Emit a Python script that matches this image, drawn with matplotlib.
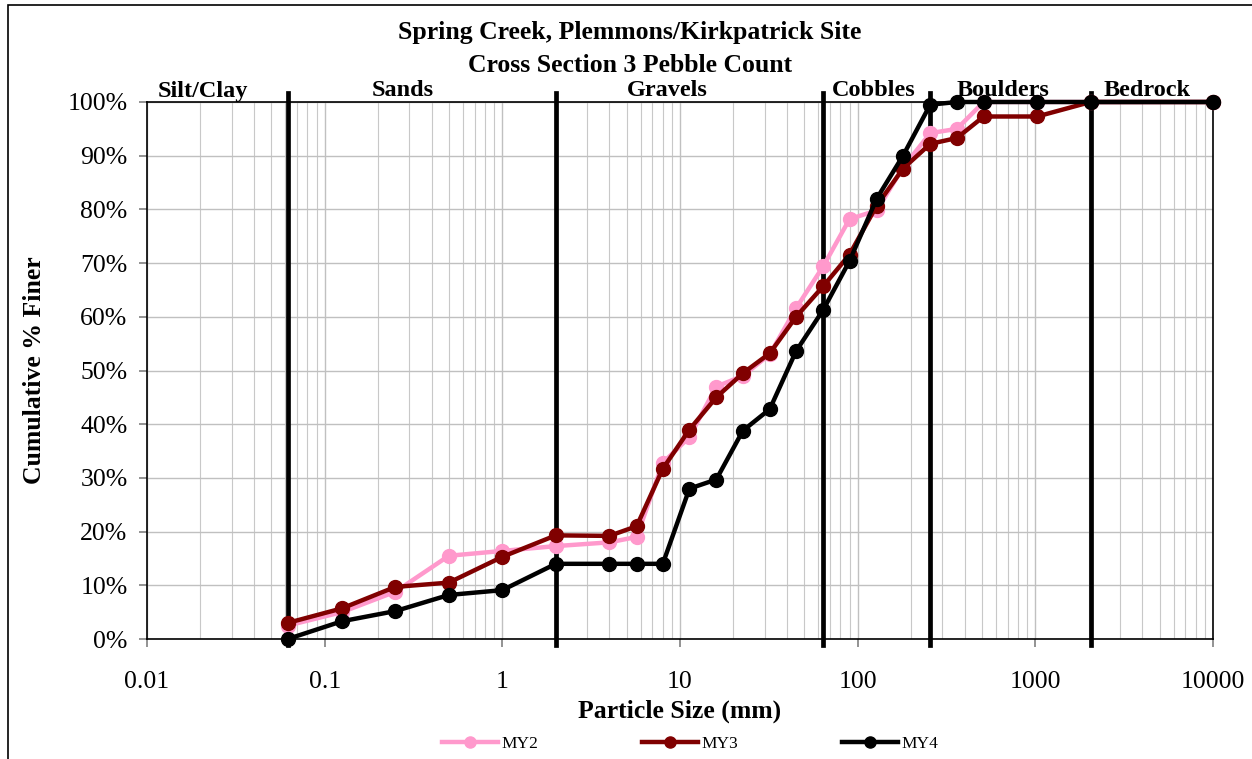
import matplotlib
matplotlib.use("Agg")
import matplotlib.pyplot as plt
from matplotlib.ticker import FixedLocator, LogLocator, NullFormatter, PercentFormatter
from matplotlib.patches import Rectangle

plt.rcParams['font.family'] = ['Liberation Serif', 'DejaVu Serif']

sizes = [0.062, 0.125, 0.25, 0.5, 1, 2, 4, 5.7, 8, 11.3, 16, 22.6, 32, 45, 64, 90,
         128, 180, 256, 362, 512, 1024, 2048, 10000]
my2 = [2.5, 5.0, 8.8, 15.5, 16.4, 17.3, 18.0, 19.0, 32.8, 37.6, 47.0, 49.0, 53.0, 61.6,
       69.4, 78.2, 79.8, 87.8, 94.2, 95.0, 100, 100, 100, 100]
my3 = [3.0, 5.7, 9.7, 10.5, 15.3, 19.3, 19.2, 21.0, 31.7, 39.0, 45.0, 49.5, 53.2, 60.0,
       65.7, 71.6, 80.7, 87.6, 92.2, 93.3, 97.3, 97.3, 100, 100]
my4 = [0.0, 3.3, 5.2, 8.2, 9.1, 14.0, 14.0, 14.0, 14.0, 28.0, 29.7, 38.8, 42.8, 53.6,
       61.3, 70.4, 82.0, 90.0, 99.5, 100, 100, 100, 100, 100]
series_names = ['MY2', 'MY3', 'MY4']
series_colors = ['#FF99CC', '#800000', '#000000']

boundaries = [0.062, 2, 64, 256, 2048]
classes = ['Silt/Clay', 'Sands', 'Gravels', 'Cobbles', 'Boulders', 'Bedrock']
class_x = [203, 403, 667, 874, 1003, 1147]
xticks = [0.01, 0.1, 1, 10, 100, 1000, 10000]
xtick_labels = ['0.01', '0.1', '1', '10', '100', '1000', '10000']

W, H = 1252, 759
fig = plt.figure(figsize=(W / 100, H / 100), dpi=100)
ax = fig.add_axes([147 / W, 1 - 639 / H, (1213 - 147) / W, (639 - 102) / H])

ax.set_xscale('log')
ax.set_xlim(0.01, 10000)
ax.set_ylim(0, 100)

ax.xaxis.set_major_locator(FixedLocator(xticks))
ax.set_xticklabels(xtick_labels)
ax.xaxis.set_minor_locator(LogLocator(base=10, subs=range(2, 10), numticks=100))
ax.xaxis.set_minor_formatter(NullFormatter())
ax.set_yticks(range(0, 101, 10))
ax.yaxis.set_major_formatter(PercentFormatter(decimals=0))

ax.grid(which='major', axis='both', color='#c0c0c0', lw=1.0)
ax.grid(which='minor', axis='x', color='#c8c8c8', lw=0.8)
ax.set_axisbelow(True)

ax.tick_params(axis='both', which='major', labelsize=18.5, direction='out', length=6,
               width=1.2, color='#808080', labelcolor='black')
ax.tick_params(axis='x', which='minor', length=0)
ax.tick_params(axis='x', which='major', pad=17)
ax.tick_params(axis='y', which='major', pad=8)
for s in ax.spines.values():
    s.set_color('black')
    s.set_linewidth(1.2)

for b in boundaries:
    ax.axvline(b, ymin=-0.012, ymax=1.017, color='black', lw=3.4, clip_on=False, zorder=2)

for name, vals, col in zip(series_names, [my2, my3, my4], series_colors):
    ax.plot(sizes, vals, color=col, lw=3.2, marker='o', ms=10, label=name, zorder=3,
            clip_on=False)

for c, x in zip(classes, class_x):
    fig.text(x / W, 1 - 91 / H, c, ha='center', va='center', fontsize=17.5,
             fontweight='bold')

fig.text(630 / W, 1 - 32 / H, 'Spring Creek, Plemmons/Kirkpatrick Site', ha='center',
         va='center', fontsize=18.5, fontweight='bold')
fig.text(630 / W, 1 - 66 / H, 'Cross Section 3 Pebble Count', ha='center',
         va='center', fontsize=18.5, fontweight='bold')

fig.text(680 / W, 1 - 711 / H, 'Particle Size (mm)', ha='center', va='center',
         fontsize=18.5, fontweight='bold')
fig.text(35 / W, 1 - 370 / H, 'Cumulative % Finer', ha='center', va='center',
         fontsize=18.5, fontweight='bold', rotation=90)

leg = fig.legend(loc='center', bbox_to_anchor=(690 / W, 1 - 744 / H), ncol=3,
                 frameon=False, fontsize=12.5, handlelength=3.2, handletextpad=0.2,
                 columnspacing=6.0, markerscale=0.8)

fig.patches.append(Rectangle((8 / W, -0.1), 1.2, 1 - 5 / H + 0.1, transform=fig.transFigure,
                             fill=False, edgecolor='black', lw=1.2))

fig.savefig('out.png', dpi=100)
